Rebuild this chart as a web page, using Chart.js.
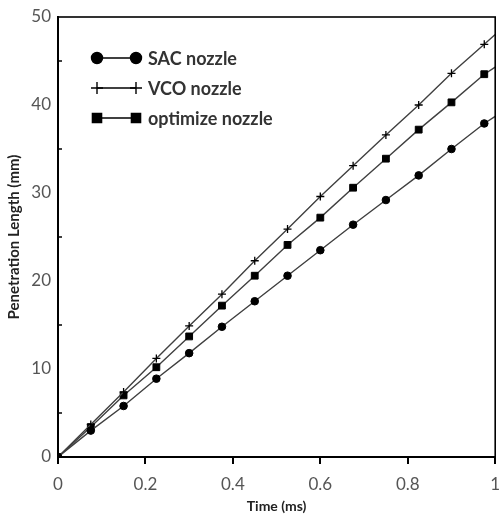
<!DOCTYPE html>
<html>
<head>
<meta charset="utf-8">
<script src="https://cdn.jsdelivr.net/npm/chart.js@4/dist/chart.umd.min.js"></script>
<style>
  body { margin: 0; background: #fff; }
  #wrap { width: 501px; height: 517px; }
</style>
</head>
<body>
<div id="wrap"><canvas id="myChart"></canvas></div>
<script>
// time (ms), last point has no marker (line runs to the frame)
const times = [0, 0.075, 0.15, 0.225, 0.3, 0.375, 0.45, 0.525, 0.6, 0.675, 0.75, 0.825, 0.9, 0.975, 1.0];
const sacNozzle = [0, 3.0, 5.8, 8.9, 11.8, 14.8, 17.7, 20.6, 23.5, 26.4, 29.2, 32.0, 35.0, 37.9, 38.7];
const vcoNozzle = [0, 3.7, 7.4, 11.2, 14.9, 18.5, 22.3, 25.9, 29.6, 33.1, 36.6, 40.0, 43.6, 46.9, 48.0];
const optNozzle = [0, 3.4, 7.0, 10.2, 13.7, 17.2, 20.6, 24.1, 27.2, 30.6, 33.9, 37.2, 40.3, 43.5, 44.3];
const seriesNames = ['SAC nozzle', 'VCO nozzle', 'optimize nozzle'];
const xTicks = [0, 0.2, 0.4, 0.6, 0.8, 1];
const yTicks = [0, 10, 20, 30, 40, 50];

const toPts = arr => times.map((t, i) => ({x: t, y: arr[i]}));
const radii = (r) => times.map((t, i) => i == times.length - 1 ? 0 : r);

function makeSet(label, data, style, r, legR) {
  return {
    label: label,
    data: toPts(data),
    borderColor: '#404040',
    borderWidth: 1.4,
    pointStyle: style,
    pointRadius: radii(r),
    legendRadius: legR,
    pointBackgroundColor: '#000',
    pointBorderColor: '#000',
    pointBorderWidth: style == 'cross' ? 1.3 : 1,
    tension: 0
  };
}

// frame, inward minor y ticks and the legend box
const extras = {
  id: 'extras',
  afterDraw(chart) {
    const ctx = chart.ctx;
    const a = chart.chartArea;
    const y = chart.scales.y;
    ctx.save();
    ctx.strokeStyle = '#000';
    ctx.lineWidth = 1.6;
    ctx.strokeRect(a.left, a.top, a.right - a.left, a.bottom - a.top);
    ctx.lineWidth = 1.5;
    for (let v = 5; v < 50; v += 10) {
      const py = y.getPixelForValue(v);
      ctx.beginPath();
      ctx.moveTo(a.left, py);
      ctx.lineTo(a.left + 4, py);
      ctx.stroke();
    }
    // legend
    chart.data.datasets.forEach((ds, i) => {
      const ly = 58 + i * 30;
      const x1 = 97, x2 = 136;
      ctx.strokeStyle = '#000';
      ctx.lineWidth = 1.4;
      ctx.beginPath();
      ctx.moveTo(x1, ly);
      ctx.lineTo(x2, ly);
      ctx.stroke();
      const opts = {pointStyle: ds.pointStyle, radius: ds.legendRadius, rotation: 0, borderWidth: ds.pointStyle == 'cross' ? 1.8 : 1};
      ctx.fillStyle = '#000';
      ctx.strokeStyle = '#000';
      Chart.helpers.drawPoint(ctx, opts, x1, ly);
      Chart.helpers.drawPoint(ctx, opts, x2, ly);
      ctx.fillStyle = '#333';
      ctx.font = 'bold 18px Lato';
      ctx.textBaseline = 'middle';
      ctx.fillText(ds.label, 148, ly + 1);
    });
    ctx.restore();
  }
};

const ctx = document.getElementById('myChart');
const myChart = new Chart(ctx, {
  type: 'line',
  data: {
    datasets: [
      makeSet(seriesNames[0], sacNozzle, 'circle', 3.8, 5.5),
      makeSet(seriesNames[1], vcoNozzle, 'cross', 4, 6),
      makeSet(seriesNames[2], optNozzle, 'rect', 4.8, 6.5)
    ]
  },
  options: {
    responsive: true,
    maintainAspectRatio: false,
    animation: false,
    layout: { padding: { top: 17, right: 4, left: 0, bottom: 0 } },
    plugins: { legend: { display: false }, tooltip: { enabled: false } },
    scales: {
      x: {
        type: 'linear',
        min: 0, max: 1,
        afterFit: s => { s.height = 60; s.paddingLeft = 0; s.paddingRight = 0; },
        afterBuildTicks: s => { s.ticks = xTicks.map(v => ({value: v})); },
        ticks: { color: '#555', font: { family: 'Lato', size: 17 }, padding: 10, maxRotation: 0,
                 callback: v => String(v) },
        grid: { drawOnChartArea: false, drawTicks: true, tickLength: 7, color: '#000', lineWidth: 2 },
        border: { display: true, color: '#000', width: 2 },
        title: { display: true, text: 'Time (ms)', color: '#222', font: { family: 'Lato', size: 14, weight: 'bold' }, padding: { top: 0, bottom: 2 } }
      },
      y: {
        min: 0, max: 50,
        afterFit: s => { s.width = 58; s.paddingTop = 0; s.paddingBottom = 0; },
        afterBuildTicks: s => { s.ticks = yTicks.map(v => ({value: v})); },
        ticks: { color: '#555', font: { family: 'Lato', size: 17 }, padding: 7 },
        grid: { display: false, drawTicks: false },
        border: { display: true, color: '#000', width: 2 },
        title: { display: true, text: 'Penetration Length (mm)', color: '#222', font: { family: 'Lato', size: 15, weight: 'bold' }, padding: { top: 5, bottom: 0 } }
      }
    }
  },
  plugins: [extras]
});
</script>
</body>
</html>
